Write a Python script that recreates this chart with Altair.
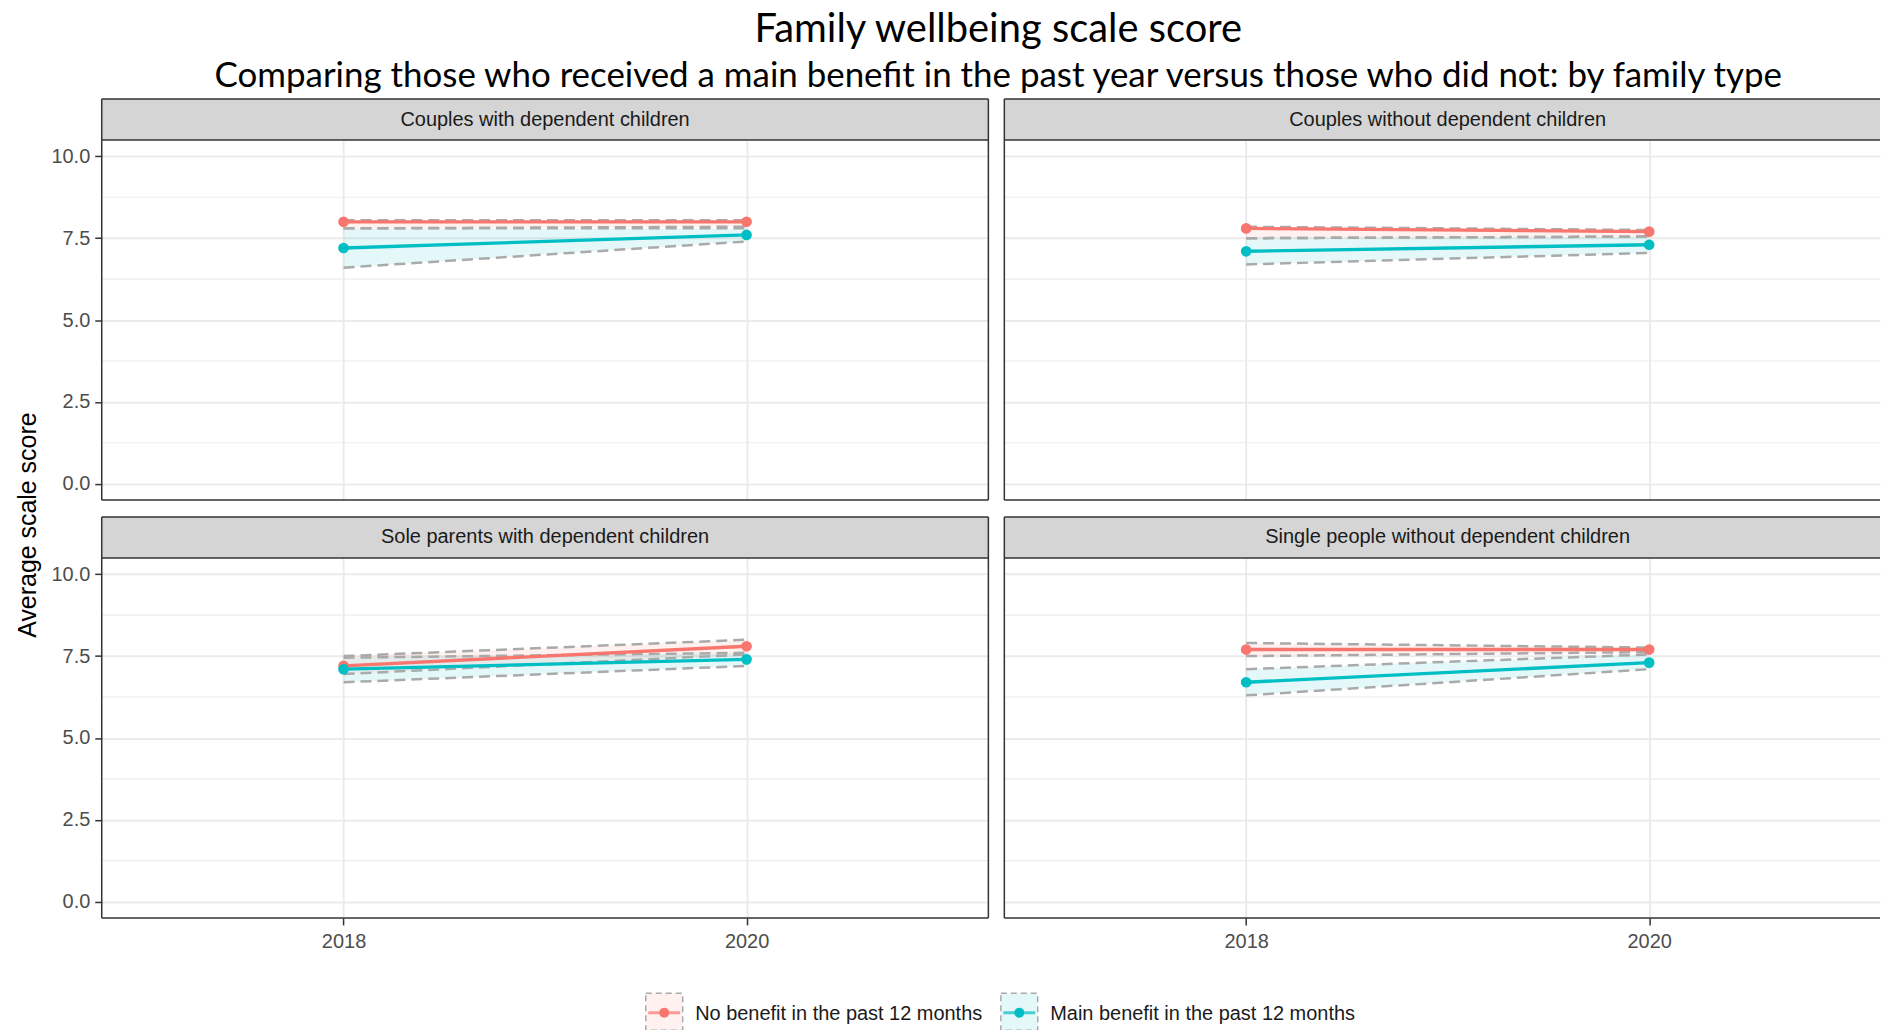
import altair as alt
import pandas as pd

# ---- data -------------------------------------------------------------
panels = [
    "Couples with dependent children",
    "Couples without dependent children",
    "Sole parents with dependent children",
    "Single people without dependent children",
]
years = [2018, 2020]
series = ["No benefit in the past 12 months", "Main benefit in the past 12 months"]

# mean score per panel, [2018, 2020]
no_benefit_mean = [[8.0, 8.0], [7.8, 7.7], [7.2, 7.8], [7.7, 7.7]]
no_benefit_lower = [[7.8, 7.85], [7.5, 7.55], [6.95, 7.55], [7.5, 7.62]]
no_benefit_upper = [[8.05, 8.05], [7.85, 7.75], [7.5, 8.0], [7.9, 7.76]]

main_benefit_mean = [[7.2, 7.6], [7.1, 7.3], [7.1, 7.4], [6.7, 7.3]]
main_benefit_lower = [[6.6, 7.4], [6.7, 7.05], [6.7, 7.2], [6.3, 7.1]]
main_benefit_upper = [[7.8, 7.8], [7.5, 7.55], [7.45, 7.6], [7.1, 7.55]]

y_ticks = [0, 2.5, 5, 7.5, 10]
y_minor = [1.25, 3.75, 6.25, 8.75]
x_ticks = [2018, 2020]

rows = []
for s, m_all, lo_all, hi_all in [
    (series[0], no_benefit_mean, no_benefit_lower, no_benefit_upper),
    (series[1], main_benefit_mean, main_benefit_lower, main_benefit_upper),
]:
    for p, m, lo, hi in zip(panels, m_all, lo_all, hi_all):
        for yr, mv, lv, hv in zip(years, m, lo, hi):
            rows.append({"panel": p, "series": s, "year": yr,
                         "mean": mv, "lo": lv, "hi": hv})
df = pd.DataFrame(rows)

# ---- styling ----------------------------------------------------------
COLORS = ["#F8766D", "#00BFC4"]
BORDER = "#333333"
GRID = "#ebebeb"
STRIP_FILL = "#d5d5d5"
DASH = "#aaaaaa"
SANS = "Liberation Sans"
TITLE_FONT = "Lato"

PANEL_W = 889
RIGHT_W = 878          # right column runs to the page edge
PANEL_H = 361
STRIP_H = 41
X_DOMAIN = [2016.8, 2021.2]
Y_DOMAIN = [-0.5, 10.5]
LEFT_PAD = 16
PANEL_LEFT = 99        # left edge of the panel column on the page

color_scale = alt.Scale(domain=series, range=COLORS)
y_scale = alt.Scale(domain=Y_DOMAIN, nice=False, zero=False)


def panel_chart(idx, left_col, bottom_row):
    name = panels[idx]
    w = PANEL_W if left_col else RIGHT_W
    span = (X_DOMAIN[1] - X_DOMAIN[0]) * w / PANEL_W
    x_dom = [X_DOMAIN[0], X_DOMAIN[0] + span]

    if bottom_row:
        x_axis = alt.Axis(values=x_ticks, format="d", grid=True, domain=False,
                          labels=True, ticks=True, title=None, labelPadding=7)
    else:
        x_axis = alt.Axis(values=x_ticks, grid=True, domain=False,
                          labels=False, ticks=False, title=None)
    if left_col:
        y_axis = alt.Axis(values=y_ticks, format=".1f", grid=True, domain=False,
                          labels=True, ticks=True, title=None)
    else:
        y_axis = alt.Axis(values=y_ticks, grid=True, domain=False,
                          labels=False, ticks=False, title=None)

    x = alt.X("year:Q", scale=alt.Scale(domain=x_dom, nice=False, zero=False),
              axis=x_axis)
    d = df[df["panel"] == name]
    base = alt.Chart(d)
    label_df = pd.DataFrame({"panel": [name]})

    minor = alt.Chart(pd.DataFrame({"v": y_minor})).mark_rule(
        color=GRID, strokeWidth=1.1
    ).encode(y=alt.Y("v:Q", scale=y_scale, axis=y_axis))

    band = base.mark_area(opacity=0.1).encode(
        x=x,
        y=alt.Y("lo:Q", scale=y_scale, axis=y_axis),
        y2="hi:Q",
        color=alt.Color("series:N", scale=color_scale, legend=None),
    )
    dash_lo = base.mark_line(color=DASH, strokeWidth=2.5,
                             strokeDash=[11, 6]).encode(
        x=x, y=alt.Y("lo:Q", scale=y_scale, axis=y_axis), detail="series:N")
    dash_hi = base.mark_line(color=DASH, strokeWidth=2.5,
                             strokeDash=[11, 6]).encode(
        x=x, y=alt.Y("hi:Q", scale=y_scale, axis=y_axis), detail="series:N")
    line = base.mark_line(strokeWidth=3.4).encode(
        x=x, y=alt.Y("mean:Q", scale=y_scale, axis=y_axis),
        color=alt.Color("series:N", scale=color_scale, legend=None),
    )
    pts = base.mark_circle(size=115, opacity=1).encode(
        x=x, y=alt.Y("mean:Q", scale=y_scale, axis=y_axis),
        color=alt.Color("series:N", scale=color_scale, legend=None),
    )

    # facet strip drawn above the panel
    lab = alt.Chart(label_df)
    strip_bg = lab.mark_rect(fill=STRIP_FILL).encode(
        x=alt.value(0), x2=alt.value(w),
        y=alt.value(-STRIP_H), y2=alt.value(0))
    strip_txt = lab.mark_text(font=SANS, fontSize=20, color="#1a1a1a").encode(
        text="panel:N", x=alt.value(PANEL_W / 2), y=alt.value(-STRIP_H / 2))

    # frame lines
    rule = lab.mark_rule(color=BORDER, strokeWidth=1.5)
    frame = [
        rule.encode(x=alt.value(0), y=alt.value(-STRIP_H), y2=alt.value(PANEL_H)),
        rule.encode(y=alt.value(-STRIP_H), x=alt.value(0), x2=alt.value(w)),
        rule.encode(y=alt.value(0), x=alt.value(0), x2=alt.value(w)),
        rule.encode(y=alt.value(PANEL_H), x=alt.value(0), x2=alt.value(w)),
    ]
    if left_col:
        frame.append(rule.encode(x=alt.value(w), y=alt.value(-STRIP_H),
                                 y2=alt.value(PANEL_H)))

    return alt.layer(minor, band, dash_lo, dash_hi, line, pts,
                     strip_bg, strip_txt, *frame).properties(width=w, height=PANEL_H)


row_top = alt.hconcat(panel_chart(0, True, False), panel_chart(1, False, False),
                      spacing=14)
row_bot = alt.hconcat(panel_chart(2, True, True), panel_chart(3, False, True),
                      spacing=14)
grid = alt.vconcat(row_top, row_bot, spacing=15).properties(
    title=alt.TitleParams("Average scale score", orient="left", anchor="middle",
                          font=SANS, fontSize=25, fontWeight="normal",
                          color="black", offset=10)
)

# ---- legend -------------------------------------------------------------
KEY_CENTERS = [663, 1019]
leg = alt.Chart(pd.DataFrame({"series": series}))
lx = alt.X("series:N", axis=None,
           scale=alt.Scale(type="point", domain=series, padding=0,
                           range=[c - PANEL_LEFT for c in KEY_CENTERS]))
lc = alt.Color("series:N", scale=color_scale, legend=None)
key_box = leg.mark_square(size=37 * 37, opacity=1, fillOpacity=0.1,
                          stroke=DASH, strokeWidth=1.5,
                          strokeDash=[6, 4]).encode(
    x=lx, y=alt.value(21), fill=alt.Fill("series:N", scale=color_scale, legend=None))
key_line = leg.mark_tick(orient="horizontal", size=32, thickness=3).encode(
    x=lx, y=alt.value(22), color=lc)
key_dot = leg.mark_circle(size=100, opacity=1).encode(x=lx, y=alt.value(22), color=lc)
key_txt = leg.mark_text(align="left", dx=31, font=SANS, fontSize=20,
                        color="#1a1a1a").encode(x=lx, y=alt.value(23), text="series:N")
legend = alt.layer(key_box, key_line, key_dot, key_txt).properties(width=1300, height=40)

chart = alt.vconcat(grid, legend, spacing=38).properties(
    title=alt.TitleParams(
        "Family wellbeing scale score",
        subtitle="Comparing those who received a main benefit in the past year versus those who did not: by family type",
        font=TITLE_FONT, fontSize=40, fontWeight="normal", color="black",
        subtitleFont=TITLE_FONT, subtitleFontSize=35, subtitleColor="black",
        subtitlePadding=10, anchor="middle", offset=4, dx=50),
    padding={"left": LEFT_PAD, "top": 8, "right": 0, "bottom": 0},
    background="white",
).configure_view(stroke=None).configure_axis(
    gridColor=GRID, gridWidth=2, labelFont=SANS, labelFontSize=20,
    labelColor="#4d4d4d", tickColor=BORDER, tickWidth=1.5, tickSize=7,
    labelPadding=5,
)

chart.save("out.html", embed_options={"renderer": "svg", "actions": False})
